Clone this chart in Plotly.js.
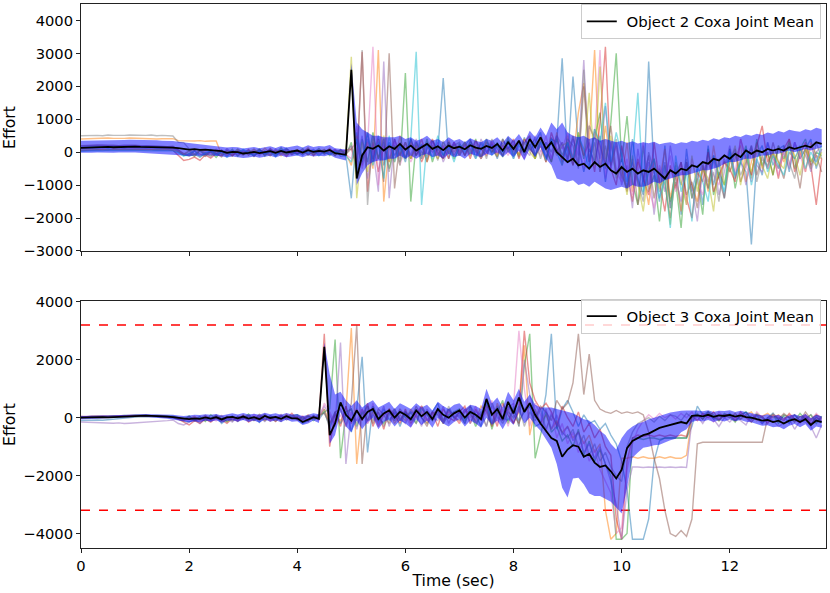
<!DOCTYPE html>
<html>
<head>
<meta charset="utf-8">
<script src="https://cdn.plot.ly/plotly-3.0.1.min.js"></script>
<style>html,body{margin:0;padding:0;background:#fff}#chart{width:830px;height:593px}</style>
</head>
<body>
<div id="chart"></div>
<script>
// sample times, 0.1 s apart
const time = Array.from({length: 138}, (_, i) => +(i * 0.1).toFixed(1));

const limits = [3200, -3200];
const traceColors = ['#1f77b4', '#ff7f0e', '#2ca02c', '#d62728', '#9467bd', '#8c564b', '#e377c2', '#7f7f7f', '#bcbd22', '#17becf'];

// ---------- Object 2 (top) ----------
const obj2Mean = [
  130,140,140,150,150,160,150,160,160,170,
  170,160,160,150,150,140,150,140,120,100,
  80,90,70,80,60,50,30,-20,10,0,
  -40,-20,10,-30,0,30,-20,40,-10,20,
  50,-10,60,10,40,20,70,-30,-60,-80,
  2500,-800,-100,150,100,200,50,180,100,250,
  80,200,50,150,250,100,180,60,200,120,
  170,90,210,140,100,190,130,250,50,300,
  100,350,0,400,150,450,100,300,0,-150,
  -300,-200,-400,-350,-500,-300,-450,-350,-550,-650,
  -450,-600,-500,-650,-550,-600,-500,-650,-800,-550,
  -650,-500,-550,-400,-450,-300,-350,-200,-250,-100,
  -200,-50,-150,50,-50,50,0,100,50,100,
  50,150,100,150,200,150,300,250];
const obj2Upper = [
  350,350,360,360,370,370,360,370,370,380,
  380,370,370,360,360,350,350,340,320,300,
  280,270,250,240,220,200,180,140,160,150,
  110,130,160,120,150,180,130,190,140,170,
  200,140,210,160,190,170,220,120,100,80,
  2700,900,700,600,500,500,450,450,450,500,
  400,450,350,400,500,350,400,300,450,350,
  400,300,420,350,300,400,350,450,280,500,
  350,550,300,650,450,750,500,900,700,900,
  600,500,450,500,400,450,350,400,350,300,
  350,280,330,260,300,270,320,240,280,300,
  250,300,280,350,320,380,340,420,380,450,
  420,500,460,540,500,560,520,600,560,640,
  600,680,640,620,700,660,740,700];
const obj2Lower = [
  -20,-30,-20,-10,-20,-10,-20,-10,-20,-10,
  -10,-20,-20,-30,-30,-40,-50,-60,-80,-100,
  -120,-100,-110,-90,-100,-110,-120,-160,-130,-150,
  -180,-160,-130,-170,-140,-110,-160,-100,-150,-120,
  -100,-150,-90,-130,-110,-120,-80,-170,-200,-250,
  2300,-1000,-650,-400,-300,-250,-250,-200,-200,-100,
  -200,-100,-200,-100,-50,-150,-100,-200,-50,-150,
  -100,-200,-50,-100,-150,-50,-100,0,-150,0,
  -150,50,-250,100,-150,150,-200,-400,-800,-850,
  -900,-850,-1000,-950,-1050,-900,-1000,-1100,-1150,-1100,
  -1050,-1100,-1000,-1050,-1050,-1000,-900,-950,-850,-800,
  -750,-700,-700,-650,-600,-550,-550,-500,-450,-350,
  -300,-300,-250,-200,-200,-150,-100,-100,-50,-50,
  0,50,0,50,100,50,100,150];

const obj2Runs = [
  [100,110,120,110,130,120,140,130,120,140,
   130,140,120,130,110,120,100,110,20,-80,
   -120,-60,-150,-40,30,-90,40,-20,-110,50,
   -60,20,-130,60,-30,90,-80,10,120,-50,
   30,-90,60,-20,110,-60,10,80,-120,-100,
   -1400,600,-300,400,-200,500,-400,300,-100,200,
   -300,400,-100,250,-200,350,50,2250,-200,300,
   -100,200,400,-150,300,0,250,-200,400,100,
   350,-100,450,50,300,600,-200,400,300,2850,
   -300,2300,200,-600,100,-300,500,-900,300,-700,
   -200,-1100,400,-800,-1300,2750,-600,-1500,200,-1700,
   -400,-1900,100,-1200,-500,-1600,200,-1000,-300,-1400,
   100,-800,-300,-600,-2800,-200,-700,300,-400,100,
   200,-600,300,-200,100,400,-500,100],
  [400,410,420,410,420,430,420,410,420,430,
   420,410,420,410,400,410,400,410,350,340,
   350,340,350,330,340,340,-80,20,-120,60,
   10,-90,70,-40,120,-20,50,-110,30,-60,
   80,-30,140,-70,20,90,-40,60,-20,-40,
   -400,500,-200,300,-500,3100,-1500,200,-300,500,
   -200,300,-100,400,-300,200,100,-200,350,0,
   250,-100,300,100,-150,400,0,200,-100,350,
   100,-50,400,200,-200,500,100,-300,600,-400,
   500,-200,1200,2100,300,3100,-600,800,-400,200,
   -800,300,-1200,-300,-700,-1600,-200,-900,100,-1400,
   -600,-1800,-300,-1000,-1500,-400,-1200,200,-800,-300,
   -600,-200,200,-900,-300,300,-500,0,-700,200,
   -300,400,-200,100,-600,300,-100,-200],
  [150,160,150,170,160,170,180,170,160,170,
   170,160,170,150,160,150,140,130,60,-100,
   -40,-130,50,-70,10,-160,30,-50,90,-120,
   40,-80,-10,100,-120,60,-40,130,-70,20,
   -50,110,-80,40,-20,70,-100,30,50,-90,
   300,-700,400,-300,600,-200,300,-500,200,-400,
   2400,-1500,300,-200,400,-300,200,-100,300,-200,
   100,300,-100,400,-200,200,0,300,-150,450,
   -100,300,0,250,-200,350,100,-300,400,-100,
   300,-400,600,-200,800,400,1200,-500,900,3000,
   -300,1100,-900,-1600,200,-1200,-700,-2100,-400,-1500,
   -900,-2300,-300,-1400,-800,-1900,100,-1300,-600,-1000,
   100,-1100,-300,200,-800,400,-400,0,-700,200,
   -200,300,-500,100,400,-300,0,-100],
  [50,60,70,60,80,70,90,80,90,80,
   90,80,90,80,70,80,70,60,-100,-250,
   -220,-150,-250,-80,-180,-40,-120,60,-90,20,
   -50,80,-120,30,-80,110,-20,60,-130,40,
   -60,20,90,-110,50,-30,120,-70,10,60,
   100,-400,3050,-1200,300,-600,200,-300,400,-100,
   300,-200,200,-300,100,400,-100,200,-200,300,
   0,250,-200,350,100,-100,300,-50,200,100,
   400,-200,300,500,-100,200,-300,600,100,-200,
   200,-400,500,-100,300,-600,900,3200,-500,-1000,
   200,-600,-1500,-200,-800,-1300,300,-900,-1800,-400,
   -1100,-300,-1400,-2000,-600,-900,0,-1200,-700,-300,
   -500,-900,400,-200,-700,200,800,-300,0,-800,
   100,400,-600,-100,300,-400,-1600,-200],
  [180,190,200,190,210,200,190,200,210,200,
   200,190,200,190,180,190,170,160,40,-60,
   30,-100,60,-20,-140,40,-60,110,-30,-90,
   70,-40,20,-100,50,-70,100,-10,40,-80,
   20,-60,30,90,-50,10,-80,60,-30,-50,
   200,-300,500,-800,100,-1200,2750,-1400,400,-200,
   300,-100,400,-200,200,0,300,-300,100,250,
   -100,300,100,-200,400,0,200,-100,350,150,
   -200,300,100,-100,500,0,300,-200,500,200,
   -300,400,-100,2800,-400,600,-200,1400,-500,300,
   -1000,-400,-1700,100,-900,-300,-1900,-600,-1200,200,
   -800,-1500,-300,-1100,-2100,-500,-900,-200,-1300,-600,
   200,-700,-200,-1000,100,-400,-600,300,-200,-500,
   0,-500,300,-200,100,-600,0,200],
  [200,210,200,220,210,220,210,200,210,200,
   210,200,190,200,190,180,170,180,60,-40,
   -100,40,-60,-130,20,-40,70,-110,50,-20,
   -90,30,-50,80,-20,-110,40,-60,90,0,
   -40,70,-90,30,60,-20,40,-100,80,-60,
   100,300,-400,600,-300,400,-900,3000,-1100,300,
   -200,400,-100,200,-300,350,0,-200,300,-100,
   200,-100,350,50,-200,300,100,-150,400,0,
   250,-150,400,100,-100,300,-300,450,0,300,
   -200,500,-400,2000,-300,700,200,-400,800,-600,
   -500,-1200,-200,-1600,-800,-100,-1400,-500,-1000,-2000,
   -700,-300,-1300,-900,-1700,-400,-1100,-100,-800,-1400,
   -300,100,-900,-400,200,-700,-100,-500,300,-300,
   -800,0,-200,-1100,100,-400,-100,-600],
  [120,130,120,140,130,140,130,150,140,130,
   140,130,140,130,120,130,120,110,40,-50,
   -80,50,-130,20,-60,90,-10,-100,40,-60,
   20,-70,100,-40,30,-90,60,-20,-110,50,
   0,80,-60,20,-100,50,-30,90,-40,-70,
   -200,800,-500,200,3200,-1000,400,-200,300,-400,
   200,-300,100,400,-100,300,-200,150,0,300,
   -100,200,50,300,-200,100,350,-50,150,-100,
   300,50,-200,400,150,-100,500,-200,300,100,
   600,-300,200,-500,800,400,3100,-800,300,-600,
   -900,-200,-1300,-600,300,-1100,-1700,-400,-800,-100,
   -1200,-600,-1600,-200,-900,-1300,-300,-700,-1000,-100,
   -200,-600,400,-400,-900,0,200,-500,-100,-700,
   100,-400,300,-100,-600,200,-300,100],
  [500,510,520,510,500,520,510,500,510,520,
   510,500,510,520,500,510,500,490,300,290,
   100,-60,40,-110,80,-30,-150,60,-40,100,
   -20,60,-90,30,-40,70,-120,10,80,-60,
   40,-20,110,-80,60,-50,20,-100,70,-30,
   200,-500,3100,-1600,500,-200,400,-600,200,-300,
   100,-200,300,0,-100,200,-250,350,-50,200,
   300,-100,200,0,250,-200,400,100,-100,300,
   0,350,-100,200,400,-200,300,0,500,-300,
   400,200,-500,2500,-300,300,-600,200,-400,400,
   -700,-1100,-300,-900,-1500,0,-600,-1200,-300,-1700,
   -500,-1000,-200,-1400,-800,-300,-1100,-600,-1500,-200,
   -600,0,-700,-300,200,-900,-200,-400,0,-500,
   200,-300,-800,100,-100,-500,300,-200],
  [60,70,60,80,70,80,90,80,70,80,
   90,80,70,80,90,80,70,60,20,-60,
   30,-90,60,-20,-110,40,-70,20,-30,80,
   -60,10,90,-50,20,-90,60,-10,-70,40,
   70,-40,20,-60,100,-20,50,-80,30,-20,
   2900,-1400,300,-600,400,-200,500,-300,200,-100,
   300,-200,200,-100,300,100,-200,300,0,200,
   -100,300,0,200,-150,300,100,-100,250,50,
   200,-100,300,0,-200,400,100,300,-100,200,
   300,-300,600,-100,1800,-400,2600,-200,500,-800,
   -400,-1300,-100,-900,-1800,-500,-200,-1100,-700,-2200,
   -300,-900,-1600,-100,-1200,-500,-800,-1800,-200,-1000,
   -300,200,-1000,-100,-600,100,-400,-800,0,-300,
   -500,300,-100,-700,100,-200,-400,0],
  [30,40,30,50,40,60,50,40,50,60,
   50,60,50,40,50,40,30,40,-20,-120,
   -60,40,-130,-20,60,-80,10,-150,30,-40,
   90,-30,-100,50,-60,20,-140,70,-20,30,
   -80,40,-30,60,-110,20,-60,10,-40,-120,
   -300,400,-200,600,-400,300,-800,500,-300,200,
   -200,400,3050,-1600,300,-200,500,-100,200,-300,
   250,0,300,-200,100,400,-100,200,0,350,
   -200,200,0,450,-100,300,-250,400,0,-400,
   300,-200,500,100,-500,700,300,1500,-300,600,
   -100,-900,-300,1800,-1200,-600,-200,-1400,-800,-2300,
   -100,-1200,-600,-2100,-400,-900,-1500,-100,-700,-1200,
   0,-700,-300,100,-1000,-200,200,-600,-100,-400,
   -700,100,-200,200,-500,0,-300,200]
];

// ---------- Object 3 (bottom) ----------
const obj3Mean = [
  0,10,0,10,20,10,20,30,40,50,
  60,70,70,60,60,50,40,20,0,-40,
  -50,-20,-40,10,-30,20,-60,10,30,-20,
  40,-30,20,-50,60,-10,30,-40,50,-20,
  -20,-150,-60,20,-40,2450,-600,-200,530,100,
  -100,250,-50,200,300,-50,150,250,0,200,
  100,-50,250,50,200,-50,300,100,0,150,
  250,0,200,100,-50,650,100,300,-50,550,
  150,700,200,500,100,-200,-450,-700,-800,-1350,
  -1100,-950,-1000,-1350,-1250,-1550,-1700,-1650,-1850,-2100,
  -1800,-1050,-800,-700,-600,-550,-450,-350,-300,-250,
  -200,-150,-200,60,80,50,100,30,80,60,
  100,40,80,20,0,-50,-100,-80,-150,-100,
  -200,-100,-50,-150,-50,-250,-100,-150];
const obj3Upper = [
  60,70,60,70,80,80,90,100,100,110,
  120,120,130,120,120,110,110,100,80,60,
  80,100,90,120,100,130,80,120,150,110,
  160,110,140,100,170,120,150,100,160,110,
  130,50,100,150,120,2600,1500,800,900,600,
  400,600,350,500,600,350,450,550,300,500,
  400,300,500,350,450,250,550,400,300,450,
  500,300,450,400,300,1000,500,700,350,900,
  600,1000,550,800,450,350,350,350,300,250,
  200,150,50,-50,-100,-250,-450,-600,-900,-1100,
  -700,-450,-300,-200,-150,-50,0,70,120,180,
  220,240,250,250,250,220,260,200,240,230,
  260,200,240,200,160,120,80,120,50,100,
  0,80,120,50,130,-20,100,50];
const obj3Lower = [
  -60,-50,-50,-40,-30,-30,-20,-10,0,10,
  20,30,20,10,0,-20,-40,-60,-100,-140,
  -160,-130,-150,-100,-140,-90,-170,-110,-90,-140,
  -80,-150,-100,-170,-60,-140,-90,-160,-60,-140,
  -120,-250,-200,-100,-180,2300,-900,-600,200,-300,
  -500,-100,-400,-150,0,-400,-150,-50,-300,-100,
  -200,-350,-50,-250,-100,-350,0,-200,-300,-150,
  -50,-300,-100,-200,-350,0,-250,-100,-400,-50,
  -250,200,-200,0,-250,-450,-750,-1040,-1600,-2420,
  -2760,-2100,-2070,-2300,-2620,-2700,-2700,-2800,-2900,-3100,
  -3310,-2420,-1380,-1200,-1040,-1000,-950,-930,-850,-780,
  -730,-500,-400,-150,-100,-130,-80,-150,-90,-130,
  -60,-120,-80,-140,-160,-220,-280,-260,-330,-300,
  -400,-280,-220,-330,-230,-450,-300,-350];

const obj3Runs = [
  [-100,-90,-100,-80,-90,-70,-60,-40,-20,0,
   20,40,30,50,40,30,20,0,-60,-120,
   -150,-60,-180,-30,-110,40,-200,-50,60,-130,
   80,-100,30,-160,90,-20,-120,60,-70,20,
   -50,-200,-100,80,-60,200,-300,100,-200,400,
   -500,300,2100,-1200,400,-200,300,-100,200,-300,
   200,-100,300,0,-200,200,500,-100,300,0,
   200,-200,400,100,-300,600,-200,400,0,-100,
   300,-100,200,400,-300,-200,800,2900,-400,300,
   600,200,-300,100,-200,-100,-400,-200,-600,-900,
   -1500,-2500,-4200,-4200,-4200,-3500,-1500,-800,-700,-700,
   -700,-700,-700,-300,400,100,200,-50,100,0,
   150,-100,50,200,-50,100,-200,0,150,-100,
   50,-200,100,-100,0,-250,50,-150],
  [20,30,20,40,30,40,50,40,60,50,
   60,70,60,70,50,60,40,30,-20,-80,
   -30,50,-100,20,-60,80,-20,-130,40,-50,
   100,-40,20,-90,60,-110,30,-50,120,-20,
   40,-60,100,-30,20,300,-200,100,-100,200,
   3100,-1600,300,-100,200,-300,100,300,-200,100,
   -100,300,0,200,-200,100,300,-100,200,50,
   -200,300,100,-100,400,200,-300,500,0,300,
   -200,200,2500,-600,300,-200,100,-400,-100,-500,
   -300,-700,-500,-900,-600,-1200,-900,-3200,-4200,-4000,
   -1400,-1400,-1350,-1400,-1350,-1400,-1400,-1350,-1400,-1350,
   -1400,-1400,-1300,0,100,-50,150,50,-100,100,
   0,150,-50,100,200,-100,50,150,0,100,
   -50,100,-150,50,0,-100,100,-50],
  [40,30,50,40,60,50,70,60,80,70,
   90,80,90,70,80,70,60,50,0,-60,
   60,-90,30,-130,100,-40,60,-150,20,-70,
   -20,130,-60,40,-110,70,-30,90,-50,60,
   100,-30,50,-100,40,200,300,2700,-1400,200,
   300,-300,200,-100,400,0,-200,200,-100,300,
   0,200,-200,400,100,-100,300,-200,100,200,
   300,-100,200,-300,100,500,-400,200,600,-200,
   400,-300,1800,2900,-1400,-600,200,-500,-300,-800,
   -600,-1000,-400,-1300,-800,-1500,-1100,-1600,-2000,-4200,
   -4200,-4000,-700,-700,-750,-700,-700,-750,-700,-700,
   -700,-700,-700,0,150,-50,200,100,-100,150,
   50,-150,100,200,-50,150,0,-100,100,-200,
   100,0,-100,150,-50,100,-200,50],
  [10,20,10,30,20,30,40,50,40,60,
   70,60,70,60,50,40,30,10,-50,-150,
   -250,-100,-200,-50,-150,0,-80,-200,-30,-120,
   50,-150,-20,100,-80,30,-130,60,-20,150,
   -80,40,-120,60,-50,2900,-1000,200,-300,400,
   -200,300,-100,500,-300,200,-400,300,100,-200,
   300,-200,100,400,-100,200,-300,300,0,-100,
   200,400,-200,300,-100,400,200,-300,500,100,
   -200,300,3000,1200,600,300,500,200,-300,400,
   0,-300,200,-500,-200,-700,-400,-1000,-1300,-3500,
   -4200,-1500,-700,-600,-650,-600,-650,-600,-650,-600,
   -650,-600,-650,50,-100,150,0,200,-50,100,
   100,-100,200,0,-150,100,50,-200,100,0,
   -100,150,-50,-150,100,-200,0,-100],
  [-150,-160,-170,-180,-170,-180,-190,-180,-200,-190,
   -180,-170,-160,-150,-140,-130,-100,-80,-200,-250,
   -150,-50,-200,0,-120,60,-90,-30,-150,40,
   -60,100,-90,20,-130,70,-40,110,-80,0,
   60,-100,20,-50,80,400,100,-300,2600,-1600,
   200,-400,300,-200,100,-100,400,-300,200,0,
   -200,200,100,-300,300,0,-100,400,-200,200,
   0,300,-200,200,100,-300,400,0,-100,300,
   500,-300,2000,800,200,-200,300,-400,100,-600,
   -300,-800,-500,-1200,-900,-1400,-1000,-1600,-2200,-3000,
   -4200,-2500,-1700,-1700,-1720,-1700,-1720,-1700,-1720,-1700,
   -1720,-1700,-1720,-100,50,-200,100,-50,-300,0,
   -150,50,-100,-250,100,-50,-200,0,-100,-300,
   -200,-50,-400,-100,-150,-300,-700,-250],
  [30,40,30,50,40,50,60,70,60,80,
   80,90,80,70,80,60,50,30,-30,-100,
   40,-120,-30,80,-60,20,-140,50,-90,30,
   -40,70,-100,10,120,-60,40,-120,80,-30,
   20,-80,60,-20,100,150,-200,200,300,-300,
   500,3200,-1600,400,-200,300,100,-200,300,-100,
   200,-100,400,0,-300,200,100,-200,300,0,
   -100,200,400,-200,100,300,-300,200,-100,400,
   100,-200,300,500,0,400,200,-100,600,300,
   500,1200,2900,800,2200,600,300,200,150,250,
   150,200,150,200,100,-500,-1400,-2100,-3200,-4000,
   -4100,-3900,-4100,-3500,-900,-850,-850,-860,-850,-850,
   -850,-860,-850,-850,-860,-850,-850,0,100,-50,
   150,0,100,-100,200,-50,100,0],
  [50,40,60,50,70,60,50,70,60,80,
   70,80,60,70,60,50,40,30,-40,-100,
   -80,30,-140,60,-20,-110,80,-60,10,-90,
   40,-70,110,-30,60,-120,10,90,-50,30,
   -20,70,-60,40,-100,500,200,-200,100,-300,
   200,-100,300,-200,500,-300,100,200,-100,300,
   100,-300,200,400,-100,0,300,-200,200,100,
   -200,300,0,400,-100,200,600,-200,300,-300,
   400,3000,1000,-300,500,100,-500,200,-700,-200,
   -900,-500,-1200,-800,-1500,-1100,-1800,-2200,-2600,-4000,
   -3800,-1800,-900,-400,-100,100,-50,150,0,100,
   -50,150,0,200,-100,100,50,-150,200,0,
   100,-50,150,0,-100,200,0,-150,100,50,
   -100,100,-50,-200,50,-100,150,-50],
  [0,10,0,20,10,20,30,20,40,30,
   40,50,40,50,40,30,20,10,-30,-80,
   20,-60,50,-100,-20,90,-50,30,-120,60,
   -30,50,-80,120,-40,20,-100,60,-10,80,
   -50,30,-120,50,0,300,-400,200,-200,100,
   300,-200,100,400,-100,200,-300,100,300,-100,
   200,0,-200,300,100,-100,200,-200,400,0,
   100,-200,300,0,200,-300,500,100,-200,200,
   0,400,-300,200,-100,300,-400,100,-200,-500,
   -700,-400,-1000,-600,-1300,-900,-1500,-1200,-1700,-2000,
   -2200,-1000,-500,-200,-100,0,-150,50,-100,100,
   50,-100,150,0,100,-50,200,0,-100,100,
   0,150,-50,100,-150,50,0,-100,150,-50,
   100,0,-150,50,-50,100,-100,0]
];

// guard against miscounted rows
[obj2Mean, obj2Upper, obj2Lower, obj3Mean, obj3Upper, obj3Lower, ...obj2Runs, ...obj3Runs].forEach((a, k) => {
  if (a.length !== time.length) throw new Error('array ' + k + ' has ' + a.length + ' values');
});

const data = [];
const FONT = 'DejaVu Sans, sans-serif';

function addPanel(runs, upper, lower, mean, xa, ya, label, legendId) {
  runs.forEach((y, k) => {
    data.push({x: time, y: y, xaxis: xa, yaxis: ya, type: 'scatter', mode: 'lines',
      line: {color: traceColors[k % 10], width: 1.4}, opacity: 0.5, showlegend: false, hoverinfo: 'skip'});
  });
  data.push({x: time, y: upper, xaxis: xa, yaxis: ya, type: 'scatter', mode: 'lines',
    line: {width: 0}, showlegend: false, hoverinfo: 'skip'});
  data.push({x: time, y: lower, xaxis: xa, yaxis: ya, type: 'scatter', mode: 'lines',
    line: {width: 0}, fill: 'tonexty', fillcolor: 'rgba(0,0,255,0.5)', showlegend: false, hoverinfo: 'skip'});
  // leading no-break space widens the gap between line sample and text, like matplotlib
  data.push({x: time, y: mean, xaxis: xa, yaxis: ya, type: 'scatter', mode: 'lines',
    line: {color: '#000', width: 1.8}, name: '\u00A0' + label, legend: legendId});
}

addPanel(obj2Runs, obj2Upper, obj2Lower, obj2Mean, 'x', 'y', 'Object 2 Coxa Joint Mean', 'legend');

limits.forEach(v => {
  data.push({x: [0, 13.78], y: [v, v], xaxis: 'x2', yaxis: 'y2', type: 'scatter', mode: 'lines',
    line: {color: '#ff0000', width: 1.5, dash: 'dash'}, showlegend: false, hoverinfo: 'skip'});
});
addPanel(obj3Runs, obj3Upper, obj3Lower, obj3Mean, 'x2', 'y2', 'Object 3 Coxa Joint Mean', 'legend2');

const axisBase = {
  showgrid: false, zeroline: false, showline: true, mirror: true,
  linecolor: '#222', linewidth: 1, ticks: 'outside', ticklen: 4, tickcolor: '#222',
  tickfont: {family: FONT, size: 14.7, color: '#000'}
};

const legendBase = {
  xanchor: 'right', yanchor: 'top', x: 0.993,
  bgcolor: 'rgba(255,255,255,0.8)', bordercolor: '#cccccc', borderwidth: 1,
  font: {family: FONT, size: 14.9, color: '#000'}, itemwidth: 30
};

const yTitle = {text: 'Effort', font: {family: FONT, size: 15.7, color: '#000'}, standoff: 11};

const layout = {
  width: 830, height: 593,
  margin: {l: 81, r: 4, t: 4, b: 45},
  paper_bgcolor: '#fff', plot_bgcolor: '#fff',
  font: {family: FONT, color: '#000'},
  xaxis: Object.assign({}, axisBase, {range: [0, 13.78], dtick: 2, tick0: 0, showticklabels: false, anchor: 'y'}),
  yaxis: Object.assign({}, axisBase, {domain: [0.546, 1], range: [-3000, 4500], dtick: 1000, tick0: 0, anchor: 'x',
    title: yTitle}),
  xaxis2: Object.assign({}, axisBase, {range: [0, 13.78], dtick: 2, tick0: 0, anchor: 'y2',
    title: {text: 'Time (sec)', font: {family: FONT, size: 15.7, color: '#000'}, standoff: 2}}),
  yaxis2: Object.assign({}, axisBase, {domain: [0, 0.454], range: [-4500, 4030], dtick: 2000, tick0: 0, anchor: 'x2',
    title: yTitle}),
  legend: Object.assign({}, legendBase, {y: 0.9995}),
  legend2: Object.assign({}, legendBase, {y: 0.4577}),
  showlegend: true
};

Plotly.newPlot('chart', data, layout, {staticPlot: true, displayModeBar: false});
</script>
</body>
</html>
